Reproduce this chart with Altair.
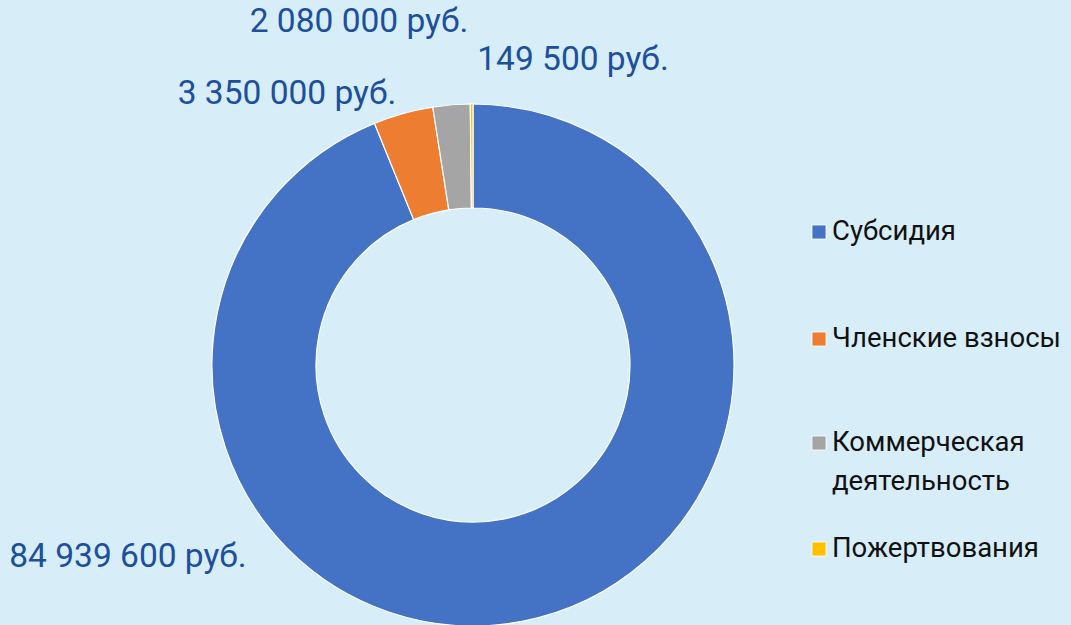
import altair as alt
import pandas as pd

categories = ["Субсидия", "Членские взносы", "Коммерческая деятельность", "Пожертвования"]
values = [84939600, 3350000, 2080000, 149500]
value_labels = ["84 939 600 руб.", "3 350 000 руб.", "2 080 000 руб.", "149 500 руб."]
colors = ["#4472C4", "#ED7D31", "#A5A5A5", "#FFC000"]

# annotation placement (pixels)
label_x = [128, 287, 359, 573]
label_y = [557, 94, 22, 60]
legend_lines = [["Субсидия"], ["Членские взносы"], ["Коммерческая", "деятельность"], ["Пожертвования"]]
legend_y = [232, 339, 443, 549]

BG = "#D7EEF9"
LBL = "#1D4F9C"

df = pd.DataFrame({"cat": categories, "value": values, "order": range(4)})
lab = pd.DataFrame({"text": value_labels, "x": label_x, "y": label_y})
leg = pd.DataFrame({"cat": categories, "y": legend_y, "lines": legend_lines, "order": range(4)})

color_scale = alt.Scale(domain=categories, range=colors)

arc = alt.Chart(df).mark_arc(
    innerRadius=157, outerRadius=261, stroke="white", strokeWidth=1.2
).encode(
    theta=alt.Theta("value:Q", stack=True),
    order=alt.Order("order:Q"),
    color=alt.Color("cat:N", scale=color_scale, legend=None),
    x=alt.value(473),
    y=alt.value(365),
)

labels = alt.Chart(lab).mark_text(
    font="Roboto", fontSize=33.5, color=LBL, align="center", baseline="middle"
).encode(
    x=alt.X("x:Q", scale=None),
    y=alt.Y("y:Q", scale=None),
    text="text:N",
)

leg_sym = alt.Chart(leg).mark_square(size=196, opacity=1, stroke="white", strokeWidth=0.8).encode(
    x=alt.value(819),
    y=alt.Y("y:Q", scale=None),
    color=alt.Color("cat:N", scale=color_scale, legend=None),
)

leg_txt = alt.Chart(leg).mark_text(
    font="Roboto", fontSize=27.5, color="#111111", align="left", baseline="middle", lineHeight=39
).encode(
    x=alt.value(832),
    y=alt.Y("y:Q", scale=None),
    text="lines",
)

chart = alt.layer(arc, labels, leg_sym, leg_txt).properties(
    width=1071, height=625, background=BG, padding=0,
    autosize=alt.AutoSizeParams(type="none"),
).configure_view(stroke=None)

chart.save("out.html", embed_options={"renderer": "svg", "actions": False})
